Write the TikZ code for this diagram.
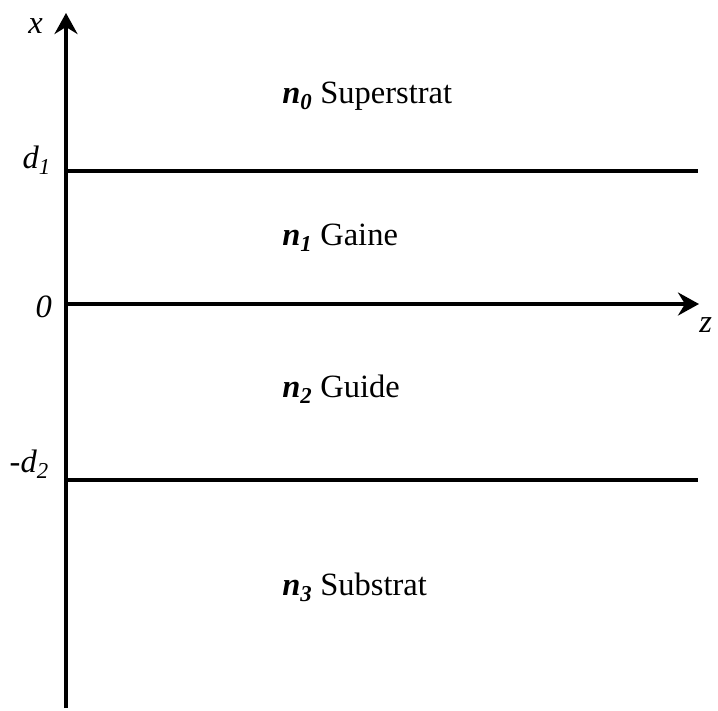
\documentclass[tikz,border=0pt]{standalone}
\usepackage{fontspec}
\setmainfont{Liberation Serif}
\usetikzlibrary{arrows.meta}

\begin{document}
\begin{tikzpicture}[x=1pt,y=-1pt,line width=4.5pt,
    lbl/.style={font=\fontsize{32.5}{36}\selectfont,inner sep=0pt},
    axis/.style={-{Stealth[length=21pt,width=23pt,inset=7pt]}}]
  \useasboundingbox (0,0) rectangle (718,710);

  % axes
  \coordinate (xbot) at (66,708);
  \coordinate (xtop) at (66,13);
  \coordinate (zleft) at (66,304);
  \coordinate (zright) at (699,304);
  \draw[axis] (xbot) -- (xtop);
  \draw[axis] (zleft) -- (zright);

  % interfaces
  \coordinate (dAl) at (66,171);
  \coordinate (dAr) at (698,171);
  \coordinate (dBl) at (66,480);
  \coordinate (dBr) at (698,480);
  \draw (dAl) -- (dAr);
  \draw (dBl) -- (dBr);

  % axis labels
  \node[lbl,anchor=base east] (xlab) at (45,33) {\textit{x}};
  \node[lbl,anchor=base east] (dAlab) at (53,168) {\textit{d}\textsubscript{\textit{1}}};
  \node[lbl,anchor=base east] (zerolab) at (54,317) {\textit{0}};
  \node[lbl,anchor=base east] (dBlab) at (51,472) {-\textit{d}\textsubscript{\textit{2}}};
  \node[lbl,anchor=base west] (zlab) at (697,332) {\textit{z}};

  % layers
  \node[lbl,anchor=base west] (sup) at (280,103) {\textbf{\textit{n}\textsubscript{\textit{0}}} Superstrat};
  \node[lbl,anchor=base west] (gai) at (280,245) {\textbf{\textit{n}\textsubscript{\textit{1}}} Gaine};
  \node[lbl,anchor=base west] (gui) at (280,397) {\textbf{\textit{n}\textsubscript{\textit{2}}} Guide};
  \node[lbl,anchor=base west] (sub) at (280,595) {\textbf{\textit{n}\textsubscript{\textit{3}}} Substrat};
\end{tikzpicture}
\end{document}
